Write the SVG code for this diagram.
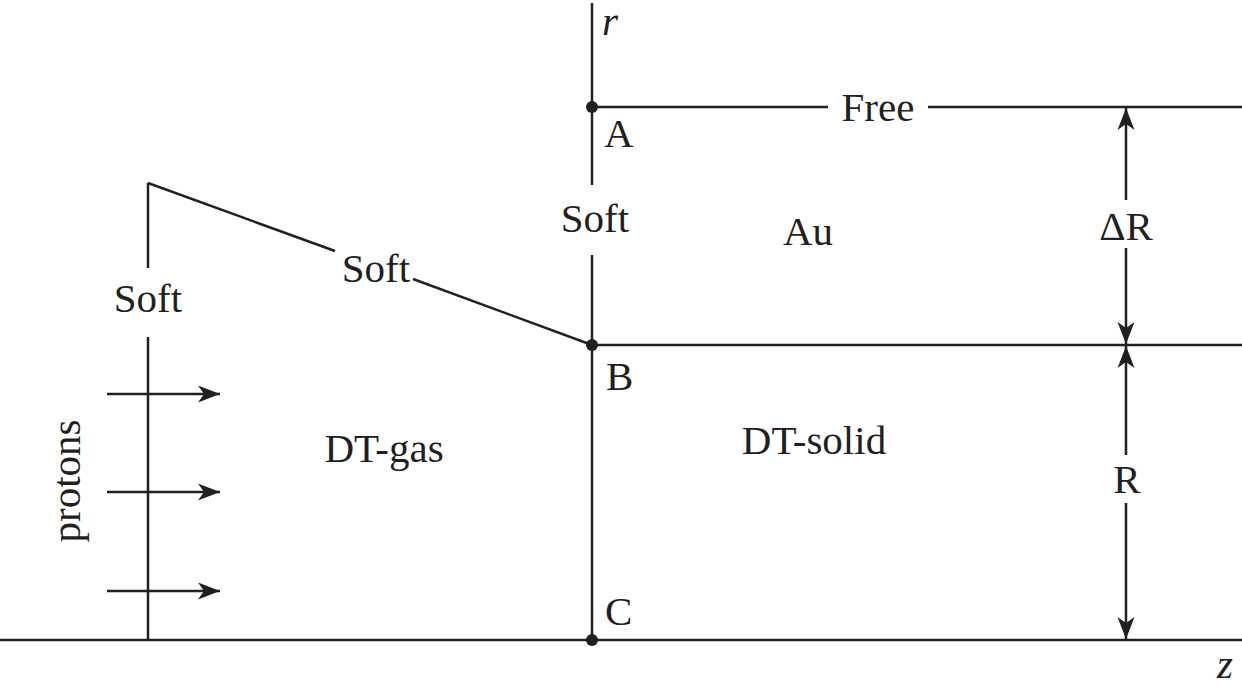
<svg xmlns="http://www.w3.org/2000/svg" width="1242" height="689" viewBox="0 0 1242 689">
<style>
.ln{stroke:#231f20;stroke-width:2.5;fill:none}
.ar{stroke:#231f20;stroke-width:2.5;fill:none;marker-end:url(#ah)}
.t{font-family:'Liberation Serif','Times New Roman',Times,serif;font-size:41px;fill:#231f20}
.i{font-style:italic}
.dot{fill:#231f20}
</style>
<defs>
<marker id="ah" markerUnits="userSpaceOnUse" markerWidth="26" markerHeight="20" viewBox="-24 -10 26 20" refX="0" refY="0" orient="auto">
<path d="M0,0 L-22,-8.5 L-16,0 L-22,8.5 Z" fill="#231f20"/>
</marker>
</defs>
<rect width="1242" height="689" fill="#ffffff"/>
<g id="connectors">
<line class="ln" x1="0" y1="640" x2="1242" y2="640"/>
<line class="ln" x1="592" y1="3" x2="592" y2="185"/>
<line class="ln" x1="592" y1="255" x2="592" y2="640"/>
<line class="ln" x1="592" y1="107" x2="828" y2="107"/>
<line class="ln" x1="928" y1="107" x2="1242" y2="107"/>
<line class="ln" x1="592" y1="345" x2="1242" y2="345"/>
<line class="ln" x1="148" y1="268" x2="148" y2="183"/>
<line class="ln" x1="148" y1="183" x2="335" y2="251"/>
<line class="ln" x1="413" y1="279" x2="592" y2="345"/>
<line class="ln" x1="148" y1="337" x2="148" y2="640"/>
<line class="ar" x1="107" y1="394" x2="220" y2="394"/>
<line class="ar" x1="107" y1="492" x2="220" y2="492"/>
<line class="ar" x1="107" y1="591" x2="220" y2="591"/>
<line class="ar" x1="1126" y1="200" x2="1126" y2="108"/>
<line class="ar" x1="1126" y1="248" x2="1126" y2="344"/>
<line class="ar" x1="1126" y1="455" x2="1126" y2="346"/>
<line class="ar" x1="1126" y1="503" x2="1126" y2="639"/>
</g>
<g id="A"><circle class="dot" cx="592" cy="107" r="6"/><text class="t" x="604" y="147">A</text></g>
<g id="B"><circle class="dot" cx="592" cy="345" r="6"/><text class="t" x="606" y="390">B</text></g>
<g id="C"><circle class="dot" cx="592" cy="640" r="6"/><text class="t" x="605" y="625">C</text></g>
<g id="axis-r"><text class="t i" x="602" y="35">r</text></g>
<g id="axis-z"><text class="t i" x="1217" y="678">z</text></g>
<g id="label-free"><text class="t" x="878" y="121" text-anchor="middle">Free</text></g>
<g id="label-soft-axis"><text class="t" x="595" y="232" text-anchor="middle">Soft</text></g>
<g id="label-soft-diag"><text class="t" x="376" y="282" text-anchor="middle">Soft</text></g>
<g id="label-soft-left"><text class="t" x="148" y="312" text-anchor="middle">Soft</text></g>
<g id="region-au"><text class="t" x="808" y="245" text-anchor="middle">Au</text></g>
<g id="region-dtgas"><text class="t" x="384" y="462" text-anchor="middle">DT-gas</text></g>
<g id="region-dtsolid"><text class="t" x="814" y="454" text-anchor="middle">DT-solid</text></g>
<g id="dim-dR"><text class="t" x="1126" y="240" text-anchor="middle">ΔR</text></g>
<g id="dim-R"><text class="t" x="1127" y="493" text-anchor="middle">R</text></g>
<g id="protons"><text class="t" transform="translate(80,481) rotate(-90)" text-anchor="middle">protons</text></g>
</svg>
